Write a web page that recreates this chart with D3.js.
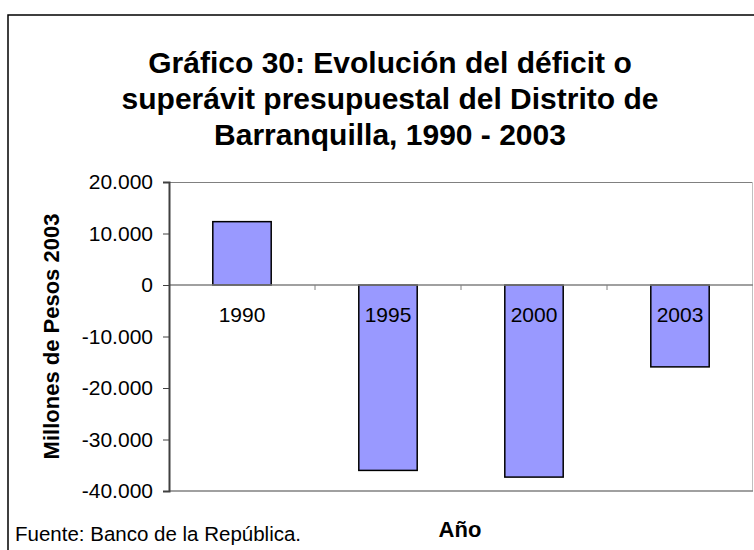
<!DOCTYPE html>
<meta charset="utf-8">
<style>
    body { margin: 0; background: #fff; }
    text { font-family: "Liberation Sans", Arial, sans-serif; fill: #000; }
</style>
<body>
<script src="https://cdn.jsdelivr.net/npm/d3@7"></script>
<script>

    var years = ["1990", "1995", "2000", "2003"];
    var balance = [12300, -36000, -37300, -15900];
    var yTicks = [20000, 10000, 0, -10000, -20000, -30000, -40000];
    var titleLines = ["Gráfico 30: Evolución del déficit o",
        "superávit presupuestal del Distrito de",
        "Barranquilla, 1990 - 2003"];

    var width = 754,
        height = 550;

    var plot = {left: 169, right: 753, top: 182, bottom: 491};

    var svg = d3.select("body").append("svg")
        .attr("width", width)
        .attr("height", height);

    // outer frame, runs past the right and bottom edges
    svg.append("rect")
        .attr("x", 8).attr("y", 15)
        .attr("width", 800).attr("height", 600)
        .attr("fill", "#fff")
        .attr("stroke", "#000")
        .attr("stroke-width", 1.5);

    svg.append("g").selectAll("text")
        .data(titleLines)
        .enter().append("text")
        .attr("x", 390)
        .attr("y", function(d, i) { return 73 + i * 36; })
        .attr("text-anchor", "middle")
        .style("font-size", "30px")
        .style("font-weight", "bold")
        .text(function(d) { return d; });

    var x = d3.scaleBand()
        .domain(years)
        .range([plot.left, plot.right])
        .paddingInner(0.6)
        .paddingOuter(0.3);

    var xBand = d3.scaleBand()
        .domain(years)
        .range([plot.left, plot.right]);

    var y = d3.scaleLinear()
        .domain([-40000, 20000])
        .range([plot.bottom, plot.top]);

    var fmt = function(v) {
        return d3.format(",")(v).replace(/,/g, ".").replace("−", "-");
    };

    // plot area edges
    svg.append("line")
        .attr("x1", plot.left).attr("x2", plot.right)
        .attr("y1", plot.top + 0.5).attr("y2", plot.top + 0.5)
        .attr("stroke", "#808080").attr("stroke-width", 1);
    svg.append("line")
        .attr("x1", plot.right - 0.5).attr("x2", plot.right - 0.5)
        .attr("y1", plot.top).attr("y2", plot.bottom)
        .attr("stroke", "#c0c0c0").attr("stroke-width", 1);
    svg.append("line")
        .attr("x1", plot.left).attr("x2", plot.right)
        .attr("y1", plot.bottom).attr("y2", plot.bottom)
        .attr("stroke", "#808080").attr("stroke-width", 1.5);

    // bars
    svg.append("g").selectAll("rect")
        .data(balance)
        .enter().append("rect")
        .attr("x", function(d, i) { return x(years[i]); })
        .attr("width", x.bandwidth())
        .attr("y", function(d) { return y(Math.max(0, d)); })
        .attr("height", function(d) { return Math.abs(y(d) - y(0)); })
        .attr("fill", "#9999ff")
        .attr("stroke", "#000")
        .attr("stroke-width", 1.5);

    // category axis on the zero line
    var xAxis = svg.append("g")
        .attr("transform", "translate(0," + y(0) + ")");
    xAxis.append("line")
        .attr("x1", plot.left).attr("x2", plot.right)
        .attr("stroke", "#808080").attr("stroke-width", 1.5);
    xAxis.selectAll(".tk")
        .data(years.slice(1))
        .enter().append("line")
        .attr("x1", function(d) { return xBand(d); })
        .attr("x2", function(d) { return xBand(d); })
        .attr("y1", 0).attr("y2", 5)
        .attr("stroke", "#808080");
    xAxis.selectAll("text")
        .data(years)
        .enter().append("text")
        .attr("x", function(d) { return xBand(d) + xBand.bandwidth() / 2; })
        .attr("y", 37)
        .attr("text-anchor", "middle")
        .style("font-size", "21px")
        .text(function(d) { return d; });

    // value axis
    var yAxis = svg.append("g")
        .attr("transform", "translate(" + plot.left + ",0)")
        .call(d3.axisLeft(y).tickValues(yTicks).tickSize(6).tickPadding(10).tickFormat(fmt));
    yAxis.select(".domain").attr("stroke", "#404040").attr("stroke-width", 2);
    yAxis.selectAll(".tick line").attr("stroke", "#404040");
    yAxis.selectAll(".tick text")
        .style("font-size", "21px")
        .style("font-family", "'Liberation Sans', Arial, sans-serif");

    svg.append("text")
        .attr("transform", "translate(59," + (plot.top + plot.bottom) / 2 + ") rotate(-90)")
        .attr("text-anchor", "middle")
        .style("font-size", "22px")
        .style("font-weight", "bold")
        .text("Millones de Pesos 2003");

    svg.append("text")
        .attr("x", 460).attr("y", 537)
        .attr("text-anchor", "middle")
        .style("font-size", "22px")
        .style("font-weight", "bold")
        .text("Año");

    svg.append("text")
        .attr("x", 15).attr("y", 541)
        .style("font-size", "20.5px")
        .text("Fuente: Banco de la República.");

</script>
</body>
